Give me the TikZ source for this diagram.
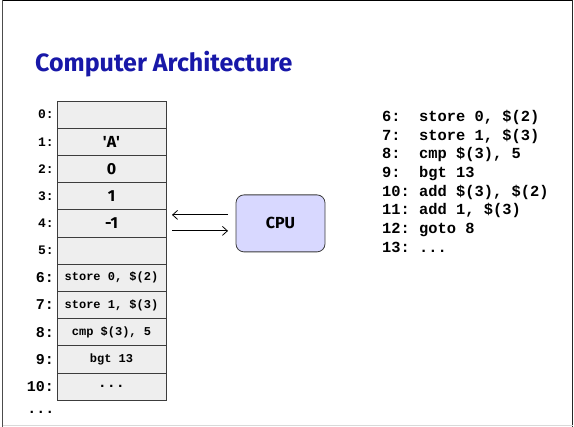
\documentclass[tikz,border=0pt]{standalone}
\usepackage{fontspec}
\setsansfont{Fira Sans}
\setmonofont{Liberation Mono}
\usetikzlibrary{positioning, calc, arrows.meta}
\definecolor{titleblue}{RGB}{24,24,168}
\definecolor{cellfill}{RGB}{238,238,238}
\definecolor{cellline}{RGB}{60,60,60}
\definecolor{cpufill}{RGB}{216,216,255}
\tikzset{frame/.style={line width=1pt}}

\begin{document}
\begin{tikzpicture}[
		x=1pt, y=-1pt,
		cell/.style={draw=cellline, fill=cellfill, line width=0.8pt, minimum width=109pt, minimum height=27.2pt, inner sep=0pt, outer sep=0pt, font=\sffamily\bfseries\fontsize{16}{18}\selectfont},
		instr/.style={cell, font=\ttfamily\bfseries\fontsize{12}{14}\selectfont},
		addr/.style={inner sep=0pt, font=\ttfamily\bfseries\fontsize{13}{15}\selectfont},
		bigaddr/.style={addr, font=\ttfamily\bfseries\fontsize{15}{17}\selectfont},
		cpu/.style={draw=cellline, fill=cpufill, line width=0.8pt, rounded corners=8pt, minimum width=89pt, minimum height=57pt, outer sep=0pt, font=\sffamily\bfseries\fontsize{16}{18}\selectfont},
		code/.style={align=left, inner sep=0pt, font=\ttfamily\bfseries\fontsize{15.4}{18.7}\selectfont},
		arrow/.style={-{Straight Barb[length=5pt, width=9pt]}, line width=0.8pt},
		label distance=3pt
		]
		\useasboundingbox (0,0) rectangle (574,427);
		% slide frame
		\draw[frame] (2.5,0.5) -- (572.5,0.5);
		\draw[frame, black!70] (2.5,0) -- (2.5,427);
		\draw[frame, black!85] (572.5,0) -- (572.5,427);
		\draw[frame, black!15] (2.5,426) -- (572.5,426);
		
		\node[anchor=base west, text=titleblue, inner sep=0pt, font=\sffamily\bfseries\fontsize{25}{28}\selectfont] (title) at (35,72) {Computer Architecture};
		
		% memory
		\node[cell, label={[addr]left:{0:}}] (m0) at (111.5,114.6) {};
		\node[cell, below=0pt of m0, label={[addr]left:{1:}}] (m1) {\textquotesingle A\textquotesingle};
		\node[cell, below=0pt of m1, label={[addr]left:{2:}}] (m2) {0};
		\node[cell, below=0pt of m2, label={[addr]left:{3:}}] (m3) {1};
		\node[cell, below=0pt of m3, label={[addr]left:{4:}}] (m4) {-1};
		\node[cell, below=0pt of m4, label={[addr]left:{5:}}] (m5) {};
		\node[instr, below=0pt of m5, label={[bigaddr]left:{6:}}] (m6) {store 0, \$(2)};
		\node[instr, below=0pt of m6, label={[bigaddr]left:{7:}}] (m7) {store 1, \$(3)};
		\node[instr, below=0pt of m7, label={[bigaddr]left:{8:}}] (m8) {cmp \$(3), 5};
		\node[instr, below=0pt of m8, label={[bigaddr]left:{9:}}] (m9) {bgt 13};
		\node[instr, below=0pt of m9, font=\ttfamily\bfseries\fontsize{15}{17}\selectfont, label={[bigaddr]left:{10:}}] (m10) {...};
		\node[bigaddr] (more) at (41,412) {...};
		
		% processor
		\node[cpu, right=70pt of m4] (cpu) {CPU};
		\coordinate (hi) at ($(cpu.west)+(0,-8.5)$);
		\coordinate (lo) at ($(cpu.west)+(0,7.5)$);
		\draw[arrow, shorten <=8pt, shorten >=6pt] (hi) -- (hi -| m4.east);
		\draw[arrow, shorten <=6pt, shorten >=8pt] (lo -| m4.east) -- (lo);
		
		% program
		\node[code, anchor=north west] (prog) at (382,110) {6:\ \ store 0, \$(2)\\7:\ \ store 1, \$(3)\\8:\ \ cmp \$(3), 5\\9:\ \ bgt 13\\10: add \$(3), \$(2)\\11: add 1, \$(3)\\12: goto 8\\13: ...};
	\end{tikzpicture}
\end{document}
